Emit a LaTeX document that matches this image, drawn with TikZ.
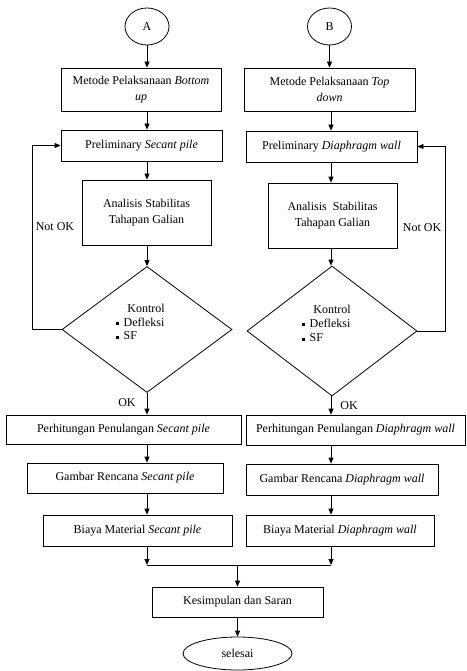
\documentclass[tikz,border=0pt]{standalone}
\usepackage{fontspec}
\setmainfont{Liberation Serif}
\usetikzlibrary{shapes.geometric,arrows.meta}
\newcommand\sqbul{\raisebox{0.25ex}{\rule{3pt}{3pt}}\hspace{5pt}}
\begin{document}
\begin{tikzpicture}[x=1pt,y=-1pt,
  box/.style={draw, line width=0.8pt, rectangle, inner sep=0pt, align=center, font=\fontsize{12}{16}\selectfont},
  term/.style={draw, line width=0.8pt, ellipse, inner sep=0pt, font=\fontsize{12}{14}\selectfont},
  dec/.style={draw, line width=0.8pt, diamond, inner sep=0pt},
  arr/.style={line width=0.8pt, -{Triangle[length=6pt,width=5pt]}},
  ln/.style={line width=0.8pt},
  lbl/.style={font=\fontsize{12}{14}\selectfont, inner sep=0pt}]
\useasboundingbox (0,0) rectangle (466,671);
\fill[white] (0,0) rectangle (466,671);
% column coordinates
\coordinate (cL) at (147,0);
\coordinate (cR) at (331,0);
\coordinate (lL) at (32,0);
\coordinate (lR) at (445,0);
% start terminals
\node[term, minimum width=44pt, minimum height=37pt] (A) at (147,26.5) {A};
\node[term, minimum width=44pt, minimum height=37pt] (B) at (329.5,26.5) {B};
% left column
\node[box, minimum width=160pt, minimum height=43pt] (mA) at (141,89.5) {Metode Pelaksanaan \textit{Bottom}\\\textit{up}};
\node[box, minimum width=161pt, minimum height=31pt] (pA) at (141.5,145.5) {Preliminary \textit{Secant pile}};
\node[box, minimum width=129pt, minimum height=65pt] (aA) at (146.5,212.5) {Analisis Stabilitas\\Tahapan Galian};
\node[dec, minimum width=170pt, minimum height=126pt] (dA) at (147,329.5) {};
\node[box, minimum width=235pt, minimum height=29pt] (hA) at (123.5,429.5) {Perhitungan Penulangan \textit{Secant pile}};
\node[box, minimum width=196pt, minimum height=30pt] (gA) at (125,478) {Gambar Rencana \textit{Secant pile}};
\node[box, minimum width=189pt, minimum height=31pt] (bA) at (137.5,530.5) {Biaya Material \textit{Secant pile}};
% right column
\node[box, minimum width=171pt, minimum height=43pt] (mB) at (329.5,89.5) {Metode Pelaksanaan \textit{Top}\\\textit{down}};
\node[box, minimum width=171pt, minimum height=31pt] (pB) at (331.5,146.5) {Preliminary \textit{Diaphragm wall}};
\node[box, minimum width=129pt, minimum height=65pt] (aB) at (332.5,215.5) {Analisis\ \ Stabilitas\\Tahapan Galian};
\node[dec, minimum width=170pt, minimum height=130pt] (dB) at (332,331) {};
\node[box, minimum width=219pt, minimum height=30pt] (hB) at (355.5,430) {Perhitungan Penulangan \textit{Diaphragm wall}};
\node[box, minimum width=192pt, minimum height=31pt] (gB) at (342,479.5) {Gambar Rencana \textit{Diaphragm wall}};
\node[box, minimum width=188pt, minimum height=31pt] (bB) at (340,530.5) {Biaya Material \textit{Diaphragm wall}};
% bottom
\node[box, minimum width=171pt, minimum height=30pt] (k) at (237.5,602) {Kesimpulan dan Saran};
\node[term, minimum width=109pt, minimum height=33pt] (s) at (237.5,653.5) {selesai};
% diamond texts
\node[lbl] (kA) at (146,308) {Kontrol};
\node[lbl, anchor=west] (kA1) at (115.5,322) {\sqbul Defleksi};
\node[lbl, anchor=west] (kA2) at (115.5,336) {\sqbul SF};
\node[lbl] (kB) at (332,309) {Kontrol};
\node[lbl, anchor=west] (kB1) at (301.5,323) {\sqbul Defleksi};
\node[lbl, anchor=west] (kB2) at (301.5,338) {\sqbul SF};
% labels
\node[lbl] (nokA) at (55,227) {Not OK};
\node[lbl] (nokB) at (422,228) {Not OK};
\node[lbl] (okA) at (127,403) {OK};
\node[lbl] (okB) at (349,406) {OK};
% merge coordinates
\coordinate (mL) at (147,565);
\coordinate (mR) at (331,565);
\coordinate (mM) at (237.5,565);
% left arrows
\draw[arr] (A.south) -- (A.south |- mA.north);
\draw[arr] (cL |- mA.south) -- (cL |- pA.north);
\draw[arr] (cL |- pA.south) -- (cL |- aA.north);
\draw[arr] (cL |- aA.south) -- (dA.north);
\draw[arr] (dA.south) -- (cL |- hA.north);
\draw[arr] (cL |- hA.south) -- (cL |- gA.north);
\draw[arr] (cL |- gA.south) -- (cL |- bA.north);
\draw[arr] (cL |- bA.south) -- (mL);
\draw[arr] (dA.west) -- (dA.west -| lL) |- (pA.west);
% right arrows
\draw[arr] (B.south) -- (B.south |- mB.north);
\draw[arr] (cR |- mB.south) -- (cR |- pB.north);
\draw[arr] (cR |- pB.south) -- (cR |- aB.north);
\draw[arr] (cR |- aB.south) -- (cR |- dB.north);
\draw[arr] (cR |- dB.south) -- (cR |- hB.north);
\draw[arr] (cR |- hB.south) -- (cR |- gB.north);
\draw[arr] (cR |- gB.south) -- (cR |- bB.north);
\draw[arr] (cR |- bB.south) -- (mR);
\draw[arr] (dB.east) -- (dB.east -| lR) |- (pB.east);
% merge
\draw[ln] (mL) -- (mR);
\draw[arr] (mM) -- (k.north);
\draw[arr] (k.south) -- (s.north);
\end{tikzpicture}
\end{document}
